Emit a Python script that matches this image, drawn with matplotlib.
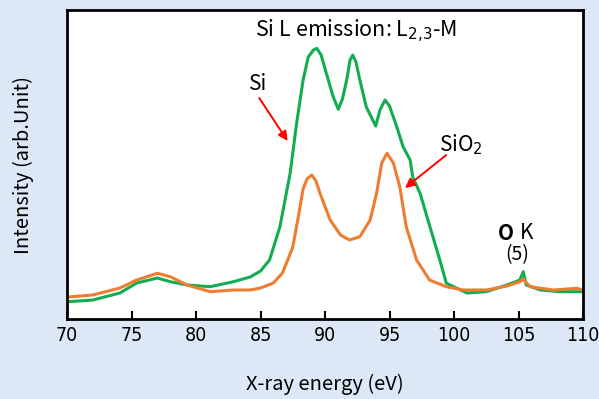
import matplotlib.pyplot as plt
from matplotlib import font_manager
from matplotlib.font_manager import FontProperties

# Si L emission spectra (energy in eV, intensity in arb. units)
si_energy = [70.1, 72.0, 74.1, 75.4, 77.0, 78.0, 79.3, 81.1, 82.9, 84.2, 85.0, 85.7,
             86.5, 87.3, 87.8, 88.3, 88.7, 89.1, 89.36, 89.7, 90.1, 90.64, 91.03, 91.35,
             91.68, 91.94, 92.15, 92.4, 92.7, 93.2, 93.93, 94.26, 94.65, 95.0, 95.56,
             96.05, 96.6, 96.8, 97.36, 98.14, 98.9, 99.4, 99.7, 101.0, 102.5, 104.1,
             105.1, 105.37, 105.6, 106.7, 108.2, 110.0]
si_int = [17.3, 19.0, 26.0, 36.0, 41.0, 37.3, 34.0, 32.3, 37.3, 42.0, 48.0, 59.0,
          92.0, 146.0, 196.0, 239.0, 262.0, 269.0, 270.7, 264.0, 245.7, 222.0, 209.7, 220.0,
          239.0, 259.0, 264.0, 257.0, 239.0, 212.0, 193.0, 209.0, 219.0, 213.0, 192.3,
          172.3, 159.0, 142.0, 126.0, 92.0, 59.0, 36.0, 34.0, 26.0, 27.3, 34.0,
          39.0, 47.3, 34.0, 29.0, 27.3, 27.3]

sio2_energy = [70.1, 72.0, 74.1, 75.4, 77.0, 78.0, 79.3, 81.1, 82.9, 84.2, 85.0, 86.0,
               86.7, 87.2, 87.5, 87.9, 88.3, 88.6, 88.97, 89.3, 89.6, 90.4, 91.2, 91.9,
               92.7, 93.5, 94.0, 94.4, 94.8, 95.3, 95.8, 96.3, 97.1, 98.1, 99.4, 100.7,
               102.5, 104.1, 105.1, 105.37, 105.9, 107.7, 109.5, 110.0]
sio2_int = [22.0, 24.0, 31.0, 39.0, 45.7, 42.3, 34.0, 27.3, 29.0, 29.0, 31.0, 36.0,
            46.0, 62.0, 72.0, 100.0, 130.0, 140.0, 144.0, 138.0, 126.0, 99.0, 84.0, 79.0,
            82.3, 99.0, 126.0, 156.0, 165.7, 156.0, 132.0, 92.0, 59.0, 39.0, 32.3, 29.0,
            29.0, 33.0, 37.3, 39.7, 32.3, 29.0, 30.7, 29.0]

xticks = [70, 75, 80, 85, 90, 95, 100, 105, 110]


def narrow_font():
    # look for a condensed / narrow regular sans face for the tick labels
    order = ['Liberation Sans Narrow', 'Noto Sans', 'DejaVu Sans', 'Roboto',
             'Open Sans', 'Lato', 'Inter']
    found = []
    for f in font_manager.fontManager.ttflist:
        narrow = (f.stretch in ('condensed', 'semi-condensed', 'extra-condensed')
                  or 'Narrow' in f.name or 'Condensed' in f.name)
        if not narrow or f.style != 'normal':
            continue
        if str(f.weight) not in ('400', 'normal', 'regular', 'book'):
            continue
        rank = len(order)
        for i, n in enumerate(order):
            if f.name.startswith(n):
                rank = i
                break
        found.append((rank, f.fname))
    if found:
        found.sort()
        return FontProperties(fname=found[0][1], size=14)
    return FontProperties(family='DejaVu Sans', size=12)


tick_fp = narrow_font()
text_font = ['Noto Sans CJK JP', 'DejaVu Sans']

bg = '#dce8f5'
fig = plt.figure(figsize=(5.99, 3.99), dpi=100, facecolor=bg)
ax = fig.add_axes([0.1119, 0.2005, 0.8614, 0.7744])
ax.set_facecolor('white')

ax.plot(si_energy, si_int, color='#12ad50', lw=2.2)
ax.plot(sio2_energy, sio2_int, color='#ee7d30', lw=2.2)

ax.set_xlim(70, 110)
ax.set_ylim(0, 309)
ax.set_yticks([])
ax.set_xticks(xticks)
ax.tick_params(axis='x', direction='in', length=6, width=1.5, pad=5)
for lab in ax.get_xticklabels():
    lab.set_fontproperties(tick_fp)
for s in ax.spines.values():
    s.set_linewidth(2)

ax.set_xlabel('X-ray energy (eV)', fontsize=14.5, family=text_font, labelpad=21)
ax.set_ylabel('Intensity (arb.Unit)', fontsize=14.5, family=text_font, labelpad=24)

ax.text(0.56, 0.93, 'Si L emission: L$_{2{,}3}$-M', transform=ax.transAxes,
        ha='center', va='center', fontsize=15.5, family=text_font)

ax.text(84.8, 235, 'Si', ha='center', va='center', fontsize=15, family=text_font)
ax.annotate('', xy=(87.1, 178), xytext=(84.9, 221),
            arrowprops=dict(arrowstyle='-|>', color='#ff0000', lw=1.4,
                            mutation_scale=14, shrinkA=0, shrinkB=0))

ax.text(100.5, 174, 'SiO$_2$', ha='center', va='center', fontsize=15, family=text_font)
ax.annotate('', xy=(96.2, 131), xytext=(99.4, 164),
            arrowprops=dict(arrowstyle='-|>', color='#ff0000', lw=1.4,
                            mutation_scale=14, shrinkA=0, shrinkB=0))

ax.text(104.0, 86, 'O', ha='center', va='center', fontsize=15,
        family=text_font, weight='bold')
ax.text(105.6, 86, 'K', ha='center', va='center', fontsize=15, family=text_font)
ax.text(104.9, 64, '(5)', ha='center', va='center', fontsize=14, family=text_font)

fig.savefig('out.png', dpi=100, facecolor=bg)
